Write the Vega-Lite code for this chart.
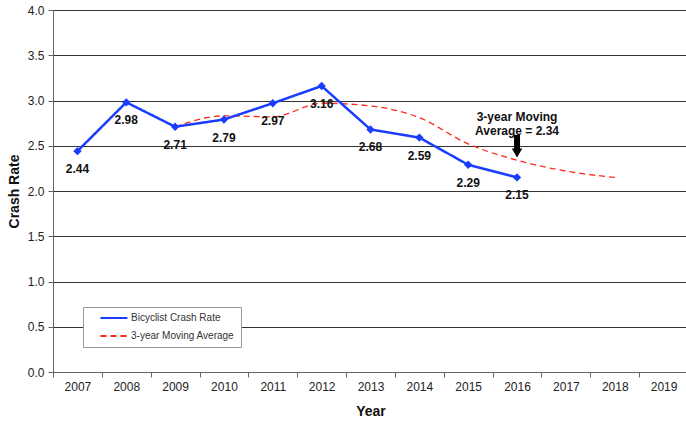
{
  "$schema": "https://vega.github.io/schema/vega-lite/v6.json",
  "autosize": "none",
  "width": 635,
  "height": 362,
  "padding": {"left": 53, "top": 10, "right": 0, "bottom": 49},
  "background": "white",
  "config": {
    "font": "Liberation Sans",
    "view": {"stroke": null}
  },
  "datasets": {
    "series": [
      {"year": "2007", "series": "Bicyclist Crash Rate", "value": 2.44},
      {"year": "2008", "series": "Bicyclist Crash Rate", "value": 2.98},
      {"year": "2009", "series": "Bicyclist Crash Rate", "value": 2.71},
      {"year": "2010", "series": "Bicyclist Crash Rate", "value": 2.79},
      {"year": "2011", "series": "Bicyclist Crash Rate", "value": 2.97},
      {"year": "2012", "series": "Bicyclist Crash Rate", "value": 3.16},
      {"year": "2013", "series": "Bicyclist Crash Rate", "value": 2.68},
      {"year": "2014", "series": "Bicyclist Crash Rate", "value": 2.59},
      {"year": "2015", "series": "Bicyclist Crash Rate", "value": 2.29},
      {"year": "2016", "series": "Bicyclist Crash Rate", "value": 2.15},
      {"year": "2009", "series": "3-year Moving Average", "value": 2.71},
      {"year": "2010", "series": "3-year Moving Average", "value": 2.83},
      {"year": "2011", "series": "3-year Moving Average", "value": 2.82},
      {"year": "2012", "series": "3-year Moving Average", "value": 2.97},
      {"year": "2013", "series": "3-year Moving Average", "value": 2.94},
      {"year": "2014", "series": "3-year Moving Average", "value": 2.81},
      {"year": "2015", "series": "3-year Moving Average", "value": 2.52},
      {"year": "2016", "series": "3-year Moving Average", "value": 2.34},
      {"year": "2017", "series": "3-year Moving Average", "value": 2.22},
      {"year": "2018", "series": "3-year Moving Average", "value": 2.15}
    ],
    "note": [
      {"year": "2016", "label": "3-year Moving\nAverage = 2.34", "value": 2.82, "top": 2.62, "bottom": 2.46, "tip": 2.42}
    ]
  },
  "encoding": {
    "x": {
      "field": "year",
      "type": "ordinal",
      "scale": {
        "type": "band",
        "paddingInner": 0,
        "paddingOuter": 0,
        "domain": ["2007","2008","2009","2010","2011","2012","2013","2014","2015","2016","2017","2018","2019"]
      },
      "axis": {
        "title": "Year",
        "titleFontSize": 14,
        "titleFontWeight": "bold",
        "titleColor": "#111",
        "titleBaseline": "middle",
        "titleY": 39,
        "labelAngle": 0,
        "labelFontSize": 12,
        "labelColor": "#222",
        "labelPadding": 4,
        "tickBand": "extent",
        "tickSize": 5,
        "tickColor": "#666",
        "domainColor": "#666",
        "grid": false
      }
    }
  },
  "layer": [
    {
      "data": {"name": "series"},
      "transform": [{"filter": "datum.series === '3-year Moving Average'"}],
      "mark": {"type": "line", "interpolate": "monotone", "strokeWidth": 1.3},
      "encoding": {
        "y": {
          "field": "value",
          "type": "quantitative",
          "scale": {"domain": [0, 4], "nice": false},
          "axis": {
            "title": "Crash Rate",
            "titleFontSize": 14,
            "titleFontWeight": "bold",
            "titleColor": "#111",
            "titleX": -39,
            "titleY": 181,
            "titleAlign": "center",
            "titleBaseline": "middle",
            "titleAngle": -90,
            "values": [0, 0.5, 1, 1.5, 2, 2.5, 3, 3.5, 4],
            "format": ".1f",
            "labelFontSize": 12,
            "labelColor": "#222",
            "labelPadding": 4,
            "tickSize": 5,
            "tickColor": "#666",
            "domainColor": "#666",
            "grid": true,
            "gridColor": "#333",
            "gridWidth": 1
          }
        },
        "color": {
          "field": "series",
          "type": "nominal",
          "scale": {"domain": ["Bicyclist Crash Rate", "3-year Moving Average"], "range": ["#1a3cff", "#ff2a1a"]},
          "legend": {
            "title": null,
            "orient": "none",
            "legendX": 30,
            "legendY": 297,
            "fillColor": "white",
            "strokeColor": "#999",
            "padding": 6,
            "rowPadding": 8,
            "labelFontSize": 10,
            "labelColor": "#333",
            "labelOffset": 32,
            "symbolType": "M1.83,0H9.46",
            "symbolSize": 50,
            "symbolStrokeWidth": 2,
            "labelLimit": 200
          }
        },
        "strokeDash": {
          "field": "series",
          "type": "nominal",
          "scale": {"domain": ["Bicyclist Crash Rate", "3-year Moving Average"], "range": [[1, 0], [6, 4]]},
          "legend": null
        }
      }
    },
    {
      "data": {"name": "series"},
      "transform": [{"filter": "datum.series === 'Bicyclist Crash Rate'"}],
      "mark": {"type": "line", "strokeWidth": 2.5, "point": {"shape": "diamond", "size": 70, "filled": true, "color": "#1a3cff"}},
      "encoding": {
        "y": {"field": "value", "type": "quantitative"},
        "color": {"field": "series", "type": "nominal"},
        "strokeDash": {"field": "series", "type": "nominal", "legend": null}
      }
    },
    {
      "data": {"name": "series"},
      "transform": [{"filter": "datum.series === 'Bicyclist Crash Rate'"}],
      "mark": {"type": "text", "dy": 18, "fontSize": 12, "fontWeight": "bold", "color": "#111"},
      "encoding": {
        "y": {"field": "value", "type": "quantitative"},
        "text": {"field": "value", "type": "quantitative", "format": ".2f"}
      }
    },
    {
      "data": {"name": "note"},
      "mark": {"type": "text", "lineBreak": "\n", "fontSize": 12, "fontWeight": "bold", "color": "#111", "baseline": "middle", "lineHeight": 14},
      "encoding": {
        "y": {"field": "value", "type": "quantitative"},
        "text": {"field": "label"}
      }
    },
    {
      "data": {"name": "note"},
      "mark": {"type": "rule", "strokeWidth": 6, "color": "black"},
      "encoding": {
        "y": {"field": "top", "type": "quantitative"},
        "y2": {"field": "bottom"}
      }
    },
    {
      "data": {"name": "note"},
      "mark": {"type": "point", "shape": "triangle-down", "filled": true, "size": 110, "color": "black", "opacity": 1},
      "encoding": {
        "y": {"field": "tip", "type": "quantitative"}
      }
    }
  ]
}
